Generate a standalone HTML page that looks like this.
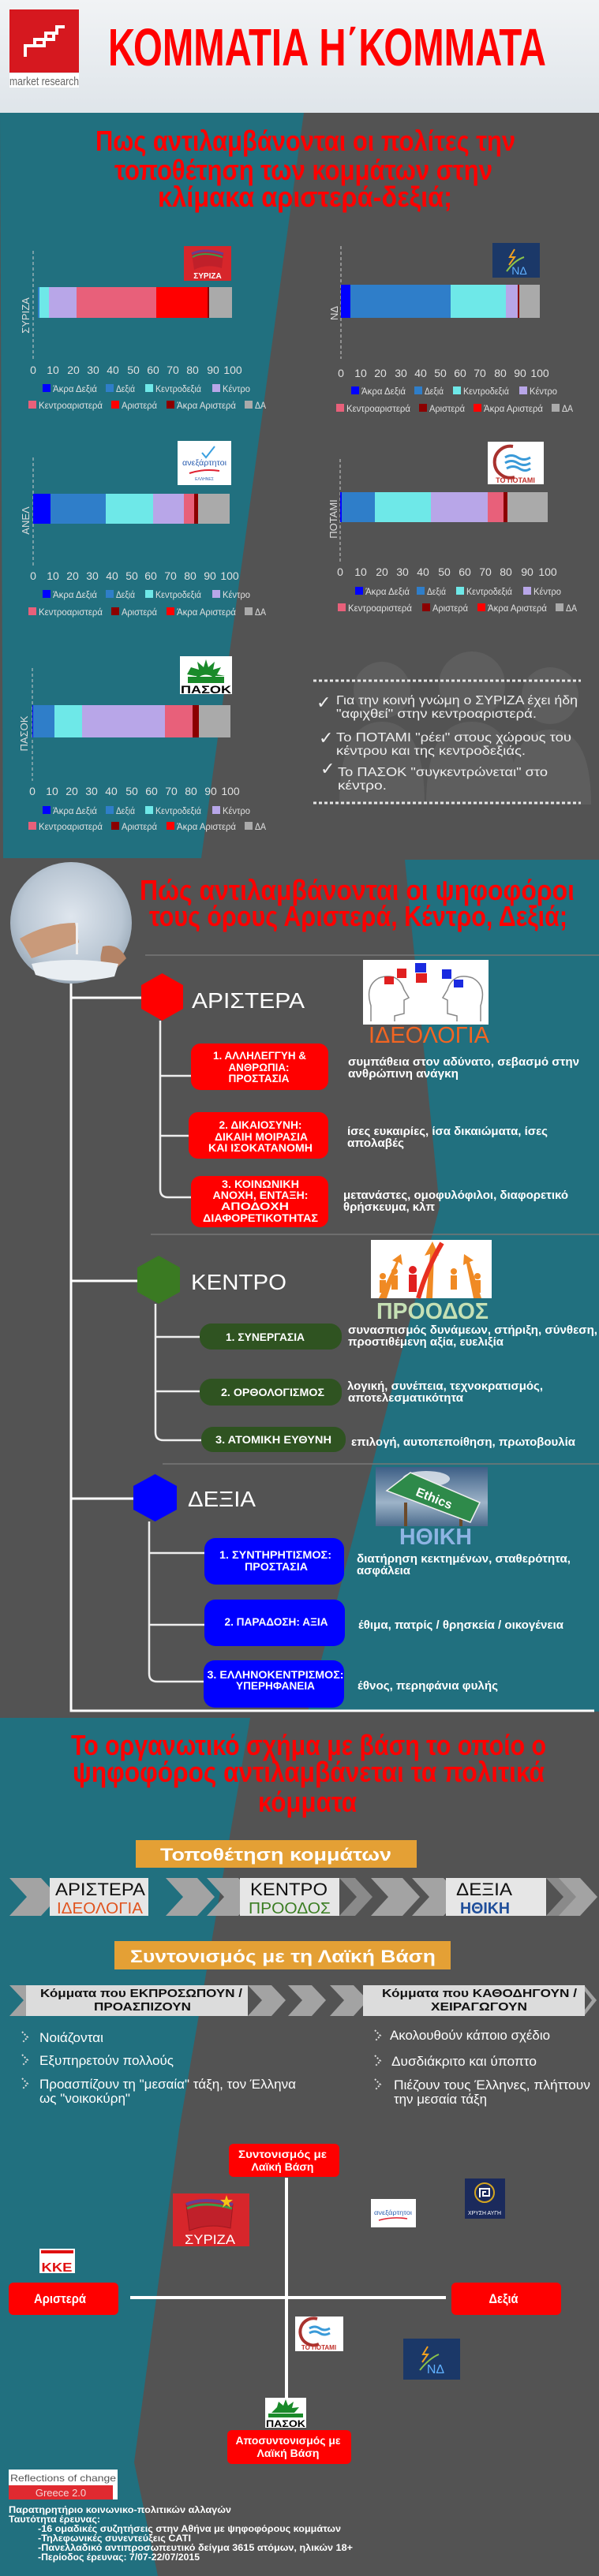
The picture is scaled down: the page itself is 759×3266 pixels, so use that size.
<!DOCTYPE html>
<html><head><meta charset="utf-8"><style>
html,body{margin:0;padding:0;background:#535353}
svg{display:block;font-family:"Liberation Sans","DejaVu Sans",sans-serif}
.lg text{fill:#e0e0e0;font-size:12px}
.nm text{fill:#e0e0e0;font-size:14px;text-anchor:middle}
.w{fill:#fff}
.b{font-weight:bold}
.c{text-anchor:middle}
</style></head><body>
<svg width="759" height="3266" viewBox="0 0 759 3266" xmlns="http://www.w3.org/2000/svg">
<defs>
<linearGradient id="hd" x1="0" y1="0" x2="0" y2="1"><stop offset="0" stop-color="#f1f3f5"/><stop offset="1" stop-color="#dfe5ea"/></linearGradient>
<radialGradient id="ph" cx=".5" cy=".45" r=".6"><stop offset="0" stop-color="#dfe6ee"/><stop offset=".7" stop-color="#b9c6d3"/><stop offset="1" stop-color="#8f9fae"/></radialGradient>
<linearGradient id="sky" x1="0" y1="0" x2="0" y2="1"><stop offset="0" stop-color="#3d5f86"/><stop offset=".6" stop-color="#9db3c8"/><stop offset="1" stop-color="#4b6b8c"/></linearGradient>
</defs>

<!-- HEADER -->
<rect x="0" y="0" width="759" height="143" fill="url(#hd)"/>
<rect x="12" y="12" width="88" height="80" fill="#d6181f"/>
<path d="M32 72 V58 H44 V50 H58 V42 H72 V34 H82" fill="none" stroke="#fff" stroke-width="4"/>
<path d="M44 58 H56 V50 M58 50 H68 V42" fill="none" stroke="#fff" stroke-width="4"/>
<rect x="12" y="93" width="88" height="18" fill="#fff"/>
<text x="12" y="108" font-size="15" fill="#666" textLength="88" lengthAdjust="spacingAndGlyphs">market research</text>
<text x="137" y="83" font-size="67" class="b" fill="#ff0000" textLength="555" lengthAdjust="spacingAndGlyphs">ΚΟΜΜΑΤΙΑ Η΄ΚΟΜΜΑΤΑ</text>

<!-- SECTION 1 -->
<rect x="0" y="143" width="759" height="947" fill="#535353"/>
<polygon points="0,143 385,143 255,1088 4,1088" fill="#21707f"/>
<g class="b" fill="#ff0000" font-size="36">
<text x="121" y="191" textLength="532" lengthAdjust="spacingAndGlyphs">Πως αντιλαμβάνονται οι πολίτες την</text>
<text x="145" y="228" textLength="479" lengthAdjust="spacingAndGlyphs">τοποθέτηση των κομμάτων στην</text>
<text x="200" y="262" textLength="373" lengthAdjust="spacingAndGlyphs">κλίμακα αριστερά-δεξιά;</text>
</g>

<!-- people silhouettes -->
<g fill="#5e5e5e">
<circle cx="484" cy="875" r="36"/><path d="M430 1020 Q430 915 484 915 Q538 915 538 1020Z"/>
<circle cx="598" cy="868" r="42"/><path d="M540 1020 Q540 915 598 915 Q656 915 656 1020Z"/>
<circle cx="697" cy="882" r="36"/><path d="M645 1020 Q645 925 697 925 Q749 925 749 1020Z"/>
</g>

<!-- SYRIZA chart -->
<line x1="42" y1="318" x2="42" y2="455" stroke="#ccc" stroke-dasharray="4 3"/>
<rect x="233" y="312" width="60" height="44" fill="#d7262b"/>
<path d="M243 322 Q258 314 283 322 L281 340 Q262 334 246 342Z" fill="#c0202a"/>
<path d="M243 322 Q258 314 283 322" fill="none" stroke="#6b3c8f" stroke-width="3"/>
<path d="M244 326 Q258 318 282 326" fill="none" stroke="#3d9a4a" stroke-width="2"/>
<text x="263" y="353" class="c b w" font-size="10">ΣΥΡΙΖΑ</text>
<rect x="48" y="364" width="2" height="39" fill="#2f7ec9"/><rect x="50" y="364" width="12" height="39" fill="#6ee8e8"/><rect x="62" y="364" width="35" height="39" fill="#b8a6e8"/><rect x="97" y="364" width="101" height="39" fill="#e8607a"/><rect x="198" y="364" width="65" height="39" fill="#ff0000"/><rect x="263" y="364" width="2" height="39" fill="#8b0000"/><rect x="265" y="364" width="29" height="39" fill="#aaa"/>
<text transform="translate(37,400) rotate(-90)" class="c" font-size="13" fill="#ddd">ΣΥΡΙΖΑ</text>
<g class="nm"><text x="42" y="474">0</text><text x="67" y="474">10</text><text x="93" y="474">20</text><text x="118" y="474">30</text><text x="143" y="474">40</text><text x="169" y="474">50</text><text x="194" y="474">60</text><text x="219" y="474">70</text><text x="244" y="474">80</text><text x="270" y="474">90</text><text x="295" y="474">100</text></g>
<g class="lg" transform="translate(42,487)">
<rect x="12" y="0" width="10" height="10" fill="#0000ff"/><text x="25" y="10" textLength="56" lengthAdjust="spacingAndGlyphs">Άκρα Δεξιά</text>
<rect x="92" y="0" width="10" height="10" fill="#2f7ec9"/><text x="105" y="10" textLength="24" lengthAdjust="spacingAndGlyphs">Δεξιά</text>
<rect x="142" y="0" width="10" height="10" fill="#6ee8e8"/><text x="155" y="10" textLength="58" lengthAdjust="spacingAndGlyphs">Κεντροδεξιά</text>
<rect x="227" y="0" width="10" height="10" fill="#b8a6e8"/><text x="240" y="10" textLength="35" lengthAdjust="spacingAndGlyphs">Κέντρο</text>
<rect x="-6" y="21" width="10" height="10" fill="#e8607a"/><text x="7" y="31" textLength="81" lengthAdjust="spacingAndGlyphs">Κεντροαριστερά</text>
<rect x="99" y="21" width="10" height="10" fill="#ff0000"/><text x="112" y="31" textLength="45" lengthAdjust="spacingAndGlyphs">Αριστερά</text>
<rect x="169" y="21" width="10" height="10" fill="#8b0000"/><text x="182" y="31" textLength="75" lengthAdjust="spacingAndGlyphs">Άκρα Αριστερά</text>
<rect x="268" y="21" width="10" height="10" fill="#aaa"/><text x="281" y="31" textLength="14" lengthAdjust="spacingAndGlyphs">ΔΑ</text>
</g>

<!-- ND chart -->
<line x1="432" y1="312" x2="432" y2="455" stroke="#ccc" stroke-dasharray="4 3"/>
<rect x="624" y="308" width="60" height="44" fill="#1b3868"/>
<path d="M652 316 L646 326 L652 326 L645 336" fill="none" stroke="#f0a020" stroke-width="2"/>
<path d="M642 344 Q652 330 664 326" fill="none" stroke="#8bc34a" stroke-width="2"/>
<text x="658" y="348" class="c" font-size="14" fill="#5fb0ff">ΝΔ</text>
<rect x="432" y="361" width="12" height="42" fill="#0000ff"/><rect x="444" y="361" width="127" height="42" fill="#2f7ec9"/><rect x="571" y="361" width="70" height="42" fill="#6ee8e8"/><rect x="641" y="361" width="15" height="42" fill="#b8a6e8"/><rect x="656" y="361" width="2" height="42" fill="#8b0000"/><rect x="658" y="361" width="26" height="42" fill="#aaa"/>
<text transform="translate(428,397) rotate(-90)" class="c" font-size="13" fill="#ddd">ΝΔ</text>
<g class="nm"><text x="432" y="478">0</text><text x="457" y="478">10</text><text x="482" y="478">20</text><text x="508" y="478">30</text><text x="533" y="478">40</text><text x="558" y="478">50</text><text x="583" y="478">60</text><text x="608" y="478">70</text><text x="634" y="478">80</text><text x="659" y="478">90</text><text x="684" y="478">100</text></g>
<g class="lg" transform="translate(432,490)">
<rect x="13" y="0" width="10" height="10" fill="#0000ff"/><text x="26" y="10" textLength="56" lengthAdjust="spacingAndGlyphs">Άκρα Δεξιά</text>
<rect x="93" y="0" width="10" height="10" fill="#2f7ec9"/><text x="106" y="10" textLength="24" lengthAdjust="spacingAndGlyphs">Δεξιά</text>
<rect x="142" y="0" width="10" height="10" fill="#6ee8e8"/><text x="155" y="10" textLength="58" lengthAdjust="spacingAndGlyphs">Κεντροδεξιά</text>
<rect x="226" y="0" width="10" height="10" fill="#b8a6e8"/><text x="239" y="10" textLength="35" lengthAdjust="spacingAndGlyphs">Κέντρο</text>
<rect x="-6" y="22" width="10" height="10" fill="#e8607a"/><text x="7" y="32" textLength="81" lengthAdjust="spacingAndGlyphs">Κεντροαριστερά</text>
<rect x="99" y="22" width="10" height="10" fill="#8b0000"/><text x="112" y="32" textLength="45" lengthAdjust="spacingAndGlyphs">Αριστερά</text>
<rect x="168" y="22" width="10" height="10" fill="#ff0000"/><text x="181" y="32" textLength="75" lengthAdjust="spacingAndGlyphs">Άκρα Αριστερά</text>
<rect x="267" y="22" width="10" height="10" fill="#aaa"/><text x="280" y="32" textLength="14" lengthAdjust="spacingAndGlyphs">ΔΑ</text>
</g>

<!-- ANEL chart -->
<line x1="42" y1="580" x2="42" y2="717" stroke="#ccc" stroke-dasharray="4 3"/>
<rect x="225" y="559" width="68" height="56" fill="#fff"/>
<path d="M256 574 L261 580 L272 566" fill="none" stroke="#3aa0e0" stroke-width="2"/>
<text x="259" y="590" class="c" font-size="10" fill="#2a5db0" textLength="56" lengthAdjust="spacingAndGlyphs">ανεξάρτητοι</text>
<path d="M240 600 Q258 594 278 597" fill="none" stroke="#e02030" stroke-width="2"/>
<text x="259" y="609" class="c" font-size="5" fill="#2a5db0">ΕΛΛΗΝΕΣ</text>
<rect x="42" y="626" width="22" height="38" fill="#0000ff"/><rect x="64" y="626" width="70" height="38" fill="#2f7ec9"/><rect x="134" y="626" width="60" height="38" fill="#6ee8e8"/><rect x="194" y="626" width="39" height="38" fill="#b8a6e8"/><rect x="233" y="626" width="13" height="38" fill="#e8607a"/><rect x="246" y="626" width="5" height="38" fill="#8b0000"/><rect x="251" y="626" width="40" height="38" fill="#aaa"/>
<text transform="translate(37,660) rotate(-90)" class="c" font-size="13" fill="#ddd">ΑΝΕΛ</text>
<g class="nm"><text x="42" y="735">0</text><text x="67" y="735">10</text><text x="92" y="735">20</text><text x="117" y="735">30</text><text x="142" y="735">40</text><text x="167" y="735">50</text><text x="191" y="735">60</text><text x="216" y="735">70</text><text x="241" y="735">80</text><text x="266" y="735">90</text><text x="291" y="735">100</text></g>
<g class="lg" transform="translate(42,748)">
<rect x="12" y="0" width="10" height="10" fill="#0000ff"/><text x="25" y="10" textLength="56" lengthAdjust="spacingAndGlyphs">Άκρα Δεξιά</text>
<rect x="92" y="0" width="10" height="10" fill="#2f7ec9"/><text x="105" y="10" textLength="24" lengthAdjust="spacingAndGlyphs">Δεξιά</text>
<rect x="142" y="0" width="10" height="10" fill="#6ee8e8"/><text x="155" y="10" textLength="58" lengthAdjust="spacingAndGlyphs">Κεντροδεξιά</text>
<rect x="227" y="0" width="10" height="10" fill="#b8a6e8"/><text x="240" y="10" textLength="35" lengthAdjust="spacingAndGlyphs">Κέντρο</text>
<rect x="-6" y="22" width="10" height="10" fill="#e8607a"/><text x="7" y="32" textLength="81" lengthAdjust="spacingAndGlyphs">Κεντροαριστερά</text>
<rect x="99" y="22" width="10" height="10" fill="#8b0000"/><text x="112" y="32" textLength="45" lengthAdjust="spacingAndGlyphs">Αριστερά</text>
<rect x="169" y="22" width="10" height="10" fill="#ff0000"/><text x="182" y="32" textLength="75" lengthAdjust="spacingAndGlyphs">Άκρα Αριστερά</text>
<rect x="268" y="22" width="10" height="10" fill="#aaa"/><text x="281" y="32" textLength="14" lengthAdjust="spacingAndGlyphs">ΔΑ</text>
</g>

<!-- POTAMI chart -->
<line x1="431" y1="582" x2="431" y2="715" stroke="#ccc" stroke-dasharray="4 3"/>
<rect x="618" y="560" width="71" height="54" fill="#fff"/>
<path d="M650 566 A20 20 0 1 0 652 605" fill="none" stroke="#a8322e" stroke-width="4"/>
<path d="M640 580 q8 -5 16 0 t16 0 M640 587 q8 -5 16 0 t16 0 M642 594 q8 -5 16 0 t14 0" fill="none" stroke="#3a9ad8" stroke-width="3"/>
<text x="653" y="612" class="c b" font-size="9" fill="#c0302a">ΤΟ ΠΟΤΑΜΙ</text>
<rect x="431" y="624" width="2" height="38" fill="#0000ff"/><rect x="433" y="624" width="42" height="38" fill="#2f7ec9"/><rect x="475" y="624" width="71" height="38" fill="#6ee8e8"/><rect x="546" y="624" width="72" height="38" fill="#b8a6e8"/><rect x="618" y="624" width="20" height="38" fill="#e8607a"/><rect x="638" y="624" width="5" height="38" fill="#8b0000"/><rect x="643" y="624" width="51" height="38" fill="#aaa"/>
<text transform="translate(427,658) rotate(-90)" class="c" font-size="13" fill="#ddd">ΠΟΤΑΜΙ</text>
<g class="nm"><text x="431" y="730">0</text><text x="457" y="730">10</text><text x="484" y="730">20</text><text x="510" y="730">30</text><text x="536" y="730">40</text><text x="563" y="730">50</text><text x="589" y="730">60</text><text x="615" y="730">70</text><text x="641" y="730">80</text><text x="668" y="730">90</text><text x="694" y="730">100</text></g>
<g class="lg" transform="translate(431,744)">
<rect x="19" y="0" width="10" height="10" fill="#0000ff"/><text x="32" y="10" textLength="56" lengthAdjust="spacingAndGlyphs">Άκρα Δεξιά</text>
<rect x="97" y="0" width="10" height="10" fill="#2f7ec9"/><text x="110" y="10" textLength="24" lengthAdjust="spacingAndGlyphs">Δεξιά</text>
<rect x="147" y="0" width="10" height="10" fill="#6ee8e8"/><text x="160" y="10" textLength="58" lengthAdjust="spacingAndGlyphs">Κεντροδεξιά</text>
<rect x="232" y="0" width="10" height="10" fill="#b8a6e8"/><text x="245" y="10" textLength="35" lengthAdjust="spacingAndGlyphs">Κέντρο</text>
<rect x="-3" y="21" width="10" height="10" fill="#e8607a"/><text x="10" y="31" textLength="81" lengthAdjust="spacingAndGlyphs">Κεντροαριστερά</text>
<rect x="104" y="21" width="10" height="10" fill="#8b0000"/><text x="117" y="31" textLength="45" lengthAdjust="spacingAndGlyphs">Αριστερά</text>
<rect x="174" y="21" width="10" height="10" fill="#ff0000"/><text x="187" y="31" textLength="75" lengthAdjust="spacingAndGlyphs">Άκρα Αριστερά</text>
<rect x="273" y="21" width="10" height="10" fill="#aaa"/><text x="286" y="31" textLength="14" lengthAdjust="spacingAndGlyphs">ΔΑ</text>
</g>

<!-- PASOK chart -->
<line x1="41" y1="847" x2="41" y2="990" stroke="#ccc" stroke-dasharray="4 3"/>
<rect x="228" y="832" width="66" height="48" fill="#fff"/>
<polygon points="261,836 264,846 272,839 270,849 280,846 275,855 285,857 247,857 237,855 242,846 252,849 250,839 258,846" fill="#1a8a2a"/>
<path d="M247 866 A14 12 0 0 1 275 866" fill="#fff" stroke="#1a8a2a" stroke-width="3"/>
<rect x="238" y="858" width="46" height="8" fill="#1a8a2a"/>
<text x="261" y="879" class="c b" font-size="14" fill="#000" textLength="64" lengthAdjust="spacingAndGlyphs">ΠΑΣΟΚ</text>
<rect x="41" y="894" width="1" height="41" fill="#0000ff"/><rect x="42" y="894" width="27" height="41" fill="#2f7ec9"/><rect x="69" y="894" width="35" height="41" fill="#6ee8e8"/><rect x="104" y="894" width="105" height="41" fill="#b8a6e8"/><rect x="209" y="894" width="35" height="41" fill="#e8607a"/><rect x="244" y="894" width="8" height="41" fill="#8b0000"/><rect x="252" y="894" width="40" height="41" fill="#aaa"/>
<text transform="translate(35,930) rotate(-90)" class="c" font-size="13" fill="#ddd">ΠΑΣΟΚ</text>
<g class="nm"><text x="41" y="1008">0</text><text x="66" y="1008">10</text><text x="91" y="1008">20</text><text x="116" y="1008">30</text><text x="141" y="1008">40</text><text x="167" y="1008">50</text><text x="192" y="1008">60</text><text x="217" y="1008">70</text><text x="242" y="1008">80</text><text x="267" y="1008">90</text><text x="292" y="1008">100</text></g>
<g class="lg" transform="translate(42,1022)">
<rect x="12" y="0" width="10" height="10" fill="#0000ff"/><text x="25" y="10" textLength="56" lengthAdjust="spacingAndGlyphs">Άκρα Δεξιά</text>
<rect x="92" y="0" width="10" height="10" fill="#2f7ec9"/><text x="105" y="10" textLength="24" lengthAdjust="spacingAndGlyphs">Δεξιά</text>
<rect x="142" y="0" width="10" height="10" fill="#6ee8e8"/><text x="155" y="10" textLength="58" lengthAdjust="spacingAndGlyphs">Κεντροδεξιά</text>
<rect x="227" y="0" width="10" height="10" fill="#b8a6e8"/><text x="240" y="10" textLength="35" lengthAdjust="spacingAndGlyphs">Κέντρο</text>
<rect x="-6" y="20" width="10" height="10" fill="#e8607a"/><text x="7" y="30" textLength="81" lengthAdjust="spacingAndGlyphs">Κεντροαριστερά</text>
<rect x="99" y="20" width="10" height="10" fill="#8b0000"/><text x="112" y="30" textLength="45" lengthAdjust="spacingAndGlyphs">Αριστερά</text>
<rect x="169" y="20" width="10" height="10" fill="#ff0000"/><text x="182" y="30" textLength="75" lengthAdjust="spacingAndGlyphs">Άκρα Αριστερά</text>
<rect x="268" y="20" width="10" height="10" fill="#aaa"/><text x="281" y="30" textLength="14" lengthAdjust="spacingAndGlyphs">ΔΑ</text>
</g>

<!-- conclusion box -->
<line x1="397" y1="863" x2="736" y2="863" stroke="#e6e6e6" stroke-width="3" stroke-dasharray="4 3"/>
<line x1="397" y1="1018" x2="736" y2="1018" stroke="#e6e6e6" stroke-width="3" stroke-dasharray="4 3"/>
<g fill="#f0f0f0" font-size="16">
<text x="401" y="898" font-size="22" class="b">✓</text>
<text x="426" y="893" textLength="306" lengthAdjust="spacingAndGlyphs">Για την κοινή γνώμη ο ΣΥΡΙΖΑ έχει ήδη</text>
<text x="426" y="910" textLength="254" lengthAdjust="spacingAndGlyphs">"αφιχθεί" στην κεντροαριστερά.</text>
<text x="404" y="943" font-size="22" class="b">✓</text>
<text x="426" y="940" textLength="298" lengthAdjust="spacingAndGlyphs">Το ΠΟΤΑΜΙ "ρέει" στους χώρους του</text>
<text x="426" y="957" textLength="240" lengthAdjust="spacingAndGlyphs">κέντρου και της κεντροδεξιάς.</text>
<text x="406" y="982" font-size="22" class="b">✓</text>
<text x="428" y="984" textLength="266" lengthAdjust="spacingAndGlyphs">Το ΠΑΣΟΚ "συγκεντρώνεται" στο</text>
<text x="428" y="1001" textLength="62" lengthAdjust="spacingAndGlyphs">κέντρο.</text>
</g>

<!-- SECTION 2 -->
<rect x="0" y="1088" width="759" height="1082" fill="#535353"/>
<polygon points="513,1090 759,1090 759,2170 390,2170 557,1530" fill="#21707f"/>
<ellipse cx="90" cy="1170" rx="77" ry="77" fill="url(#ph)"/>
<path d="M25 1190 Q60 1170 95 1170 L100 1195 Q70 1205 40 1215Z" fill="#c99a7a"/>
<path d="M130 1200 Q150 1195 160 1215 L140 1235 Q125 1225 128 1210Z" fill="#b58466"/>
<rect x="96" y="1170" width="3" height="40" fill="#eee"/>
<path d="M40 1222 Q90 1212 150 1222 L145 1238 Q90 1250 45 1236Z" fill="#e9eef2"/>
<g class="b" fill="#ff0000" font-size="36">
<text x="177" y="1141" textLength="551" lengthAdjust="spacingAndGlyphs">Πώς αντιλαμβάνονται οι ψηφοφόροι</text>
<text x="189" y="1174" textLength="530" lengthAdjust="spacingAndGlyphs">τους όρους Αριστερά, Κέντρο, Δεξιά;</text>
</g>
<line x1="184" y1="1211" x2="759" y2="1211" stroke="#777" stroke-width="1.5"/>
<line x1="191" y1="1565" x2="759" y2="1565" stroke="#777" stroke-width="1.5"/>
<line x1="206" y1="1856" x2="759" y2="1856" stroke="#777" stroke-width="1.5"/>

<!-- tree lines -->
<g fill="none" stroke="#fff" stroke-width="3">
<path d="M90 1247 V2169 H753"/>
<path d="M90 1265 H179 M90 1624 H174 M90 1900 H169"/>
</g>
<g fill="none" stroke="#eee" stroke-width="2.5">
<path d="M203 1294 V1508 Q203 1518 213 1518 H243 M203 1364 H243 M203 1440 H240"/>
<path d="M197 1653 V1816 Q197 1826 207 1826 H255 M197 1695 H253 M197 1764 H253"/>
<path d="M189 1929 V2122 Q189 2132 199 2132 H258 M189 1969 H259 M189 2060 H259"/>
</g>

<!-- ARISTERA -->
<polygon points="205.5,1234 232,1249 232,1279 205.5,1294 179,1279 179,1249" fill="#ff0000"/>
<text x="243" y="1278" font-size="28" class="w" textLength="143" lengthAdjust="spacingAndGlyphs">ΑΡΙΣΤΕΡΑ</text>
<rect x="460" y="1217" width="159" height="82" fill="#fff"/>
<g fill="none" stroke="#888" stroke-width="1.5">
<path d="M470 1295 V1275 Q462 1250 480 1240 Q505 1232 512 1255 L518 1265 L512 1268 V1285 L500 1288 V1295"/>
<path d="M609 1295 V1275 Q617 1250 599 1240 Q574 1232 567 1255 L561 1265 L567 1268 V1285 L579 1288 V1295"/>
</g>
<rect x="487" y="1238" width="12" height="10" fill="#e02020"/><rect x="503" y="1228" width="12" height="12" fill="#e02020"/><rect x="526" y="1221" width="14" height="12" fill="#1a2ae0"/><rect x="527" y="1234" width="14" height="12" fill="#e02020"/><rect x="560" y="1229" width="12" height="12" fill="#1a2ae0"/><rect x="575" y="1242" width="12" height="10" fill="#1a2ae0"/>
<text x="467" y="1322" font-size="29" fill="#f26522" textLength="153" lengthAdjust="spacingAndGlyphs">ΙΔΕΟΛΟΓΙΑ</text>
<g fill="#ff0000"><rect x="242" y="1323" width="174" height="59" rx="12"/><rect x="239" y="1410" width="177" height="59" rx="12"/><rect x="242" y="1491" width="174" height="65" rx="12"/></g>
<g class="w b c" font-size="14">
<text x="329" y="1343" textLength="118" lengthAdjust="spacingAndGlyphs">1. ΑΛΛΗΛΕΓΓΥΗ &amp;</text>
<text x="328" y="1358" textLength="77" lengthAdjust="spacingAndGlyphs">ΑΝΘΡΩΠΙΑ:</text>
<text x="328" y="1372" textLength="77" lengthAdjust="spacingAndGlyphs">ΠΡΟΣΤΑΣΙΑ</text>
<text x="330" y="1431" textLength="105" lengthAdjust="spacingAndGlyphs">2. ΔΙΚΑΙΟΣΥΝΗ:</text>
<text x="331" y="1446" textLength="118" lengthAdjust="spacingAndGlyphs">ΔΙΚΑΙΗ ΜΟΙΡΑΣΙΑ</text>
<text x="330" y="1460" textLength="132" lengthAdjust="spacingAndGlyphs">ΚΑΙ ΙΣΟΚΑΤΑΝΟΜΗ</text>
<text x="330" y="1506" textLength="98" lengthAdjust="spacingAndGlyphs">3. ΚΟΙΝΩΝΙΚΗ</text>
<text x="330" y="1520" textLength="121" lengthAdjust="spacingAndGlyphs">ΑΝΟΧΗ, ΕΝΤΑΞΗ:</text>
<text x="323" y="1534" textLength="86" lengthAdjust="spacingAndGlyphs">ΑΠΟΔΟΧΗ</text>
<text x="330" y="1549" textLength="146" lengthAdjust="spacingAndGlyphs">ΔΙΑΦΟΡΕΤΙΚΟΤΗΤΑΣ</text>
</g>
<g class="w b" font-size="15">
<text x="441" y="1351" textLength="293" lengthAdjust="spacingAndGlyphs">συμπάθεια στον αδύνατο, σεβασμό στην</text>
<text x="441" y="1366" textLength="140" lengthAdjust="spacingAndGlyphs">ανθρώπινη ανάγκη</text>
<text x="440" y="1439" textLength="254" lengthAdjust="spacingAndGlyphs">ίσες ευκαιρίες, ίσα δικαιώματα, ίσες</text>
<text x="440" y="1454" textLength="72" lengthAdjust="spacingAndGlyphs">απολαβές</text>
<text x="435" y="1520" textLength="285" lengthAdjust="spacingAndGlyphs">μετανάστες, ομοφυλόφιλοι, διαφορετικό</text>
<text x="435" y="1535" textLength="116" lengthAdjust="spacingAndGlyphs">θρήσκευμα, κλπ</text>
</g>

<!-- KENTRO -->
<polygon points="201,1592 228,1607 228,1638 201,1653 174,1638 174,1607" fill="#3a7a22"/>
<text x="242" y="1635" font-size="28" class="w" textLength="121" lengthAdjust="spacingAndGlyphs">ΚΕΝΤΡΟ</text>
<rect x="470" y="1572" width="153" height="74" fill="#fff"/>
<g fill="#f08a24">
<polygon points="548,1646 540,1646 545,1590 538,1592 548,1574 556,1592 550,1590"/>
<polygon points="480,1646 490,1646 505,1600 510,1604 508,1590 497,1598 502,1600"/>
<polygon points="600,1646 610,1646 595,1600 600,1598 588,1590 587,1604 591,1602"/>
<circle cx="485" cy="1618" r="4"/><rect x="481" y="1623" width="8" height="16"/>
<circle cx="500" cy="1612" r="4"/><rect x="496" y="1617" width="8" height="18"/>
<circle cx="575" cy="1612" r="4"/><rect x="571" y="1617" width="8" height="18"/>
<circle cx="605" cy="1618" r="4"/><rect x="601" y="1623" width="8" height="16"/>
</g>
<path d="M530 1646 Q540 1610 560 1576" fill="none" stroke="#e83020" stroke-width="6"/>
<circle cx="523" cy="1610" r="5" fill="#e02020"/><rect x="518" y="1616" width="10" height="22" fill="#e02020"/>
<text x="477" y="1672" font-size="29" fill="#c5e0b4" class="b" textLength="142" lengthAdjust="spacingAndGlyphs">ΠΡΟΟΔΟΣ</text>
<g fill="#2f5321"><rect x="253" y="1678" width="180" height="33" rx="15"/><rect x="253" y="1748" width="180" height="34" rx="15"/><rect x="255" y="1809" width="183" height="32" rx="15"/></g>
<g class="w b" font-size="14">
<text x="286" y="1700" textLength="100" lengthAdjust="spacingAndGlyphs">1. ΣΥΝΕΡΓΑΣΙΑ</text>
<text x="280" y="1770" textLength="131" lengthAdjust="spacingAndGlyphs">2. ΟΡΘΟΛΟΓΙΣΜΟΣ</text>
<text x="273" y="1830" textLength="147" lengthAdjust="spacingAndGlyphs">3. ΑΤΟΜΙΚΗ ΕΥΘΥΝΗ</text>
</g>
<g class="w b" font-size="15">
<text x="441" y="1691" textLength="316" lengthAdjust="spacingAndGlyphs">συνασπισμός δυνάμεων, στήριξη, σύνθεση,</text>
<text x="441" y="1706" textLength="197" lengthAdjust="spacingAndGlyphs">προστιθέμενη αξία, ευελιξία</text>
<text x="440" y="1762" textLength="248" lengthAdjust="spacingAndGlyphs">λογική, συνέπεια, τεχνοκρατισμός,</text>
<text x="441" y="1777" textLength="146" lengthAdjust="spacingAndGlyphs">αποτελεσματικότητα</text>
<text x="445" y="1833" textLength="284" lengthAdjust="spacingAndGlyphs">επιλογή, αυτοπεποίθηση, πρωτοβουλία</text>
</g>

<!-- DEXIA -->
<polygon points="196.5,1869 224,1884 224,1914 196.5,1929 169,1914 169,1884" fill="#0000ff"/>
<text x="238" y="1910" font-size="28" class="w" textLength="86" lengthAdjust="spacingAndGlyphs">ΔΕΞΙΑ</text>
<rect x="476" y="1860" width="142" height="75" fill="url(#sky)"/>
<ellipse cx="540" cy="1875" rx="30" ry="10" fill="#e8edf2" opacity=".8"/>
<rect x="512" y="1905" width="4" height="30" fill="#6b4a2a"/><rect x="582" y="1915" width="4" height="20" fill="#6b4a2a"/>
<polygon points="490,1890 520,1867 608,1905 596,1930" fill="#2e8a4a" stroke="#eee" stroke-width="1.5"/>
<text x="550" y="1905" font-size="16" class="w b c" transform="rotate(22 550 1900)">Ethics</text>
<text x="506" y="1958" font-size="29" fill="#8eb4e3" class="b" textLength="92" lengthAdjust="spacingAndGlyphs">ΗΘΙΚΗ</text>
<g fill="#0000ff"><rect x="259" y="1950" width="177" height="59" rx="14"/><rect x="259" y="2028" width="178" height="59" rx="14"/><rect x="258" y="2105" width="178" height="60" rx="14"/></g>
<g class="w b c" font-size="14">
<text x="349" y="1976" textLength="142" lengthAdjust="spacingAndGlyphs">1. ΣΥΝΤΗΡΗΤΙΣΜΟΣ:</text>
<text x="350" y="1991" textLength="80" lengthAdjust="spacingAndGlyphs">ΠΡΟΣΤΑΣΙΑ</text>
<text x="350" y="2061" textLength="131" lengthAdjust="spacingAndGlyphs">2. ΠΑΡΑΔΟΣΗ: ΑΞΙΑ</text>
<text x="349" y="2128" textLength="173" lengthAdjust="spacingAndGlyphs">3. ΕΛΛΗΝΟΚΕΝΤΡΙΣΜΟΣ:</text>
<text x="349" y="2142" textLength="100" lengthAdjust="spacingAndGlyphs">ΥΠΕΡΗΦΑΝΕΙΑ</text>
</g>
<g class="w b" font-size="15">
<text x="452" y="1981" textLength="271" lengthAdjust="spacingAndGlyphs">διατήρηση κεκτημένων, σταθερότητα,</text>
<text x="452" y="1996" textLength="68" lengthAdjust="spacingAndGlyphs">ασφάλεια</text>
<text x="454" y="2065" textLength="260" lengthAdjust="spacingAndGlyphs">έθιμα, πατρίς / θρησκεία / οικογένεια</text>
<text x="453" y="2142" textLength="178" lengthAdjust="spacingAndGlyphs">έθνος, περηφάνια φυλής</text>
</g>

<!-- SECTION 3 -->
<rect x="0" y="2172" width="759" height="1094" fill="#535353"/>
<polygon points="0,2178 317,2178 227,2700 170,3122 200,3266 0,3266" fill="#21707f"/>
<g class="b" fill="#ff0000" font-size="36">
<text x="90" y="2225" textLength="602" lengthAdjust="spacingAndGlyphs">Το οργανωτικό σχήμα με βάση το οποίο ο</text>
<text x="92" y="2259" textLength="598" lengthAdjust="spacingAndGlyphs">ψηφοφόρος αντιλαμβάνεται τα πολιτικά</text>
<text x="327" y="2297" textLength="125" lengthAdjust="spacingAndGlyphs">κόμματα</text>
</g>
<rect x="172" y="2333" width="356" height="35" fill="#e4a035"/>
<text x="203" y="2359" font-size="22" class="w b" textLength="293" lengthAdjust="spacingAndGlyphs">Τοποθέτηση κομμάτων</text>

<!-- chevrons row 1 -->
<g fill="#a3a3a3">
<polygon points="12,2381 52,2381 74,2405 52,2429 12,2429 34,2405"/>
<polygon points="210,2381 250,2381 272,2405 250,2429 210,2429 232,2405"/>
<polygon points="262,2381 302,2381 324,2405 302,2429 262,2429 284,2405"/>
<polygon points="470,2381 510,2381 532,2405 510,2429 470,2429 492,2405"/>
<polygon points="522,2381 562,2381 584,2405 562,2429 522,2429 544,2405"/>
<polygon points="700,2381 735,2381 757,2405 735,2429 700,2429 722,2405"/>
</g>
<g fill="#8a8a8a">
<polygon points="430,2381 450,2381 472,2405 450,2429 430,2429 452,2405"/>
<polygon points="692,2381 708,2381 730,2405 708,2429 692,2429 714,2405"/>
</g>
<g fill="#e6e6e6"><rect x="63" y="2381" width="125" height="48"/><rect x="304" y="2381" width="126" height="48"/><rect x="565" y="2381" width="127" height="48"/></g>
<g font-size="22">
<text x="70" y="2403" fill="#111" textLength="114" lengthAdjust="spacingAndGlyphs">ΑΡΙΣΤΕΡΑ</text>
<text x="72" y="2426" fill="#e0541f" font-size="20" textLength="109" lengthAdjust="spacingAndGlyphs">ΙΔΕΟΛΟΓΙΑ</text>
<text x="317" y="2403" fill="#111" textLength="98" lengthAdjust="spacingAndGlyphs">ΚΕΝΤΡΟ</text>
<text x="315" y="2426" fill="#3b7d23" font-size="20" textLength="104" lengthAdjust="spacingAndGlyphs">ΠΡΟΟΔΟΣ</text>
<text x="578" y="2403" fill="#111" textLength="71" lengthAdjust="spacingAndGlyphs">ΔΕΞΙΑ</text>
<text x="583" y="2426" fill="#1f4e9a" font-size="20" class="b" textLength="63" lengthAdjust="spacingAndGlyphs">ΗΘΙΚΗ</text>
</g>

<rect x="145" y="2461" width="426" height="36" fill="#e4a035"/>
<text x="165" y="2488" font-size="22" class="w b" textLength="387" lengthAdjust="spacingAndGlyphs">Συντονισμός με τη Λαϊκή Βάση</text>

<!-- chevrons row 2 -->
<g fill="#a3a3a3">
<polygon points="12,2517 42,2517 60,2536 42,2556 12,2556 30,2536"/>
<polygon points="314,2517 344,2517 362,2536 344,2556 314,2556 332,2536"/>
<polygon points="365,2517 395,2517 413,2536 395,2556 365,2556 383,2536"/>
<polygon points="418,2517 448,2517 466,2536 448,2556 418,2556 436,2536"/>
<polygon points="735,2517 740,2517 756,2536 740,2556 735,2556 750,2536"/>
</g>
<g fill="#dcdcdc"><rect x="33" y="2517" width="281" height="39"/><rect x="460" y="2517" width="281" height="39"/></g>
<g class="b" font-size="15" fill="#111">
<text x="51" y="2532" textLength="256" lengthAdjust="spacingAndGlyphs">Κόμματα που ΕΚΠΡΟΣΩΠΟΥΝ /</text>
<text x="119" y="2549" textLength="123" lengthAdjust="spacingAndGlyphs">ΠΡΟΑΣΠΙΖΟΥΝ</text>
<text x="484" y="2532" textLength="247" lengthAdjust="spacingAndGlyphs">Κόμματα που ΚΑΘΟΔΗΓΟΥΝ /</text>
<text x="546" y="2549" textLength="122" lengthAdjust="spacingAndGlyphs">ΧΕΙΡΑΓΩΓΟΥΝ</text>
</g>
<g fill="none" stroke="#ddd" stroke-width="2" stroke-dasharray="2 2">
<path d="M28 2576 L35 2583 L28 2590 M28 2605 L35 2612 L28 2619 M28 2635 L35 2642 L28 2649"/>
<path d="M475 2574 L482 2581 L475 2588 M475 2606 L482 2613 L475 2620 M475 2636 L482 2643 L475 2650"/>
</g>
<g class="w" font-size="17">
<text x="50" y="2589" textLength="81" lengthAdjust="spacingAndGlyphs">Νοιάζονται</text>
<text x="50" y="2618" textLength="170" lengthAdjust="spacingAndGlyphs">Εξυπηρετούν πολλούς</text>
<text x="50" y="2648" textLength="325" lengthAdjust="spacingAndGlyphs">Προασπίζουν τη "μεσαία" τάξη, τον Έλληνα</text>
<text x="50" y="2666" textLength="115" lengthAdjust="spacingAndGlyphs">ως "νοικοκύρη"</text>
<text x="494" y="2586" textLength="203" lengthAdjust="spacingAndGlyphs">Ακολουθούν κάποιο σχέδιο</text>
<text x="496" y="2619" textLength="184" lengthAdjust="spacingAndGlyphs">Δυσδιάκριτο και ύποπτο</text>
<text x="499" y="2649" textLength="249" lengthAdjust="spacingAndGlyphs">Πιέζουν τους Έλληνες, πλήττουν</text>
<text x="499" y="2667" textLength="118" lengthAdjust="spacingAndGlyphs">την μεσαία τάξη</text>
</g>

<!-- axis diagram -->
<g stroke="#fff" stroke-width="4"><line x1="363" y1="2761" x2="363" y2="3077"/><line x1="165" y1="2913" x2="565" y2="2913"/></g>
<g fill="#ff0000"><rect x="290" y="2718" width="140" height="42" rx="6"/><rect x="11" y="2894" width="139" height="41" rx="6"/><rect x="572" y="2894" width="139" height="41" rx="6"/><rect x="288" y="3081" width="157" height="43" rx="6"/></g>
<g class="w b c" font-size="14">
<text x="358" y="2736" textLength="112" lengthAdjust="spacingAndGlyphs">Συντονισμός με</text>
<text x="358" y="2752">Λαϊκή Βάση</text>
<text x="76" y="2920" font-size="17" textLength="66" lengthAdjust="spacingAndGlyphs">Αριστερά</text>
<text x="638" y="2920" font-size="17" textLength="37" lengthAdjust="spacingAndGlyphs">Δεξιά</text>
<text x="365" y="3099" textLength="133" lengthAdjust="spacingAndGlyphs">Αποσυντονισμός με</text>
<text x="365" y="3115">Λαϊκή Βάση</text>
</g>
<!-- logos in diagram -->
<rect x="219" y="2781" width="97" height="67" fill="#d7262b"/>
<path d="M236 2795 Q258 2785 295 2795 L292 2825 Q265 2818 240 2828Z" fill="#c0202a" stroke="#a0181f"/>
<path d="M236 2795 Q258 2785 295 2795" fill="none" stroke="#6b3c8f" stroke-width="4"/>
<path d="M237 2800 Q258 2790 294 2800" fill="none" stroke="#3d9a4a" stroke-width="3"/>
<polygon points="287,2783 289,2789 295,2789 290,2793 292,2799 287,2795 282,2799 284,2793 279,2789 285,2789" fill="#f5c518"/>
<text x="266" y="2845" class="w c" font-size="17" textLength="64" lengthAdjust="spacingAndGlyphs">ΣΥΡΙΖΑ</text>
<rect x="50" y="2851" width="45" height="31" fill="#fff"/>
<rect x="52" y="2853" width="41" height="4" fill="#e01010"/>
<text x="72" y="2880" class="c b" font-size="16" fill="#e01010" textLength="39" lengthAdjust="spacingAndGlyphs">ΚΚΕ</text>
<rect x="470" y="2788" width="57" height="36" fill="#fff"/>
<text x="498" y="2808" class="c" font-size="8" fill="#2a5db0" textLength="48" lengthAdjust="spacingAndGlyphs">ανεξάρτητοι</text>
<path d="M480 2815 Q498 2810 516 2813" fill="none" stroke="#e02030" stroke-width="1.5"/>
<rect x="589" y="2762" width="51" height="51" fill="#1b2a5c"/>
<circle cx="614" cy="2780" r="12" fill="none" stroke="#d4a520" stroke-width="2"/>
<path d="M608 2786 V2775 H620 V2784 H612 V2779 H616" fill="none" stroke="#fff" stroke-width="2"/>
<text x="614" y="2808" class="c w" font-size="7" textLength="42" lengthAdjust="spacingAndGlyphs">ΧΡΥΣΗ ΑΥΓΗ</text>
<rect x="374" y="2937" width="61" height="44" fill="#fff"/>
<path d="M402 2940 A17 17 0 1 0 404 2972" fill="none" stroke="#a8322e" stroke-width="4"/>
<path d="M392 2952 q7 -4 13 0 t13 0 M392 2958 q7 -4 13 0 t13 0" fill="none" stroke="#3a9ad8" stroke-width="3"/>
<text x="404" y="2979" class="c b" font-size="8" fill="#c0302a">ΤΟ ΠΟΤΑΜΙ</text>
<rect x="511" y="2965" width="72" height="52" fill="#1b3868"/>
<path d="M542 2975 L536 2985 L542 2985 L535 2995" fill="none" stroke="#f0a020" stroke-width="2"/>
<path d="M532 3005 Q544 2990 556 2985" fill="none" stroke="#8bc34a" stroke-width="2"/>
<text x="552" y="3009" class="c" font-size="16" fill="#5fb0ff">ΝΔ</text>
<rect x="336" y="3040" width="52" height="38" fill="#fff"/>
<polygon points="362,3042 365,3050 372,3045 370,3053 379,3052 373,3059 344,3059 351,3052 353,3045 359,3050" fill="#1a8a2a"/>
<rect x="340" y="3060" width="44" height="5" fill="#1a8a2a"/>
<text x="362" y="3077" class="c b" font-size="12" fill="#000" textLength="50" lengthAdjust="spacingAndGlyphs">ΠΑΣΟΚ</text>

<!-- footer -->
<rect x="11" y="3131" width="138" height="38" fill="#fff"/>
<text x="13" y="3146" font-size="12" fill="#555" textLength="134" lengthAdjust="spacingAndGlyphs">Reflections of change</text>
<rect x="11" y="3151" width="132" height="18" fill="#e02a30"/>
<text x="77" y="3165" class="c" font-size="13" fill="#f5d5d5">Greece 2.0</text>
<g class="w b" font-size="12">
<text x="11" y="3186" textLength="282" lengthAdjust="spacingAndGlyphs">Παρατηρητήριο κοινωνικο-πολιτικών αλλαγών</text>
<text x="11" y="3198" textLength="116" lengthAdjust="spacingAndGlyphs">Ταυτότητα έρευνας:</text>
<text x="48" y="3210" textLength="384" lengthAdjust="spacingAndGlyphs">-16 ομαδικές συζητήσεις στην Αθήνα με ψηφοφόρους κομμάτων</text>
<text x="48" y="3222" textLength="194" lengthAdjust="spacingAndGlyphs">-Τηλεφωνικές συνεντεύξεις CATI</text>
<text x="48" y="3234" textLength="399" lengthAdjust="spacingAndGlyphs">-Πανελλαδικό αντιπροσωπευτικό δείγμα 3615 ατόμων, ηλικών 18+</text>
<text x="48" y="3246" textLength="205" lengthAdjust="spacingAndGlyphs">-Περίοδος έρευνας: 7/07-22/07/2015</text>
</g>
</svg>
</body></html>
